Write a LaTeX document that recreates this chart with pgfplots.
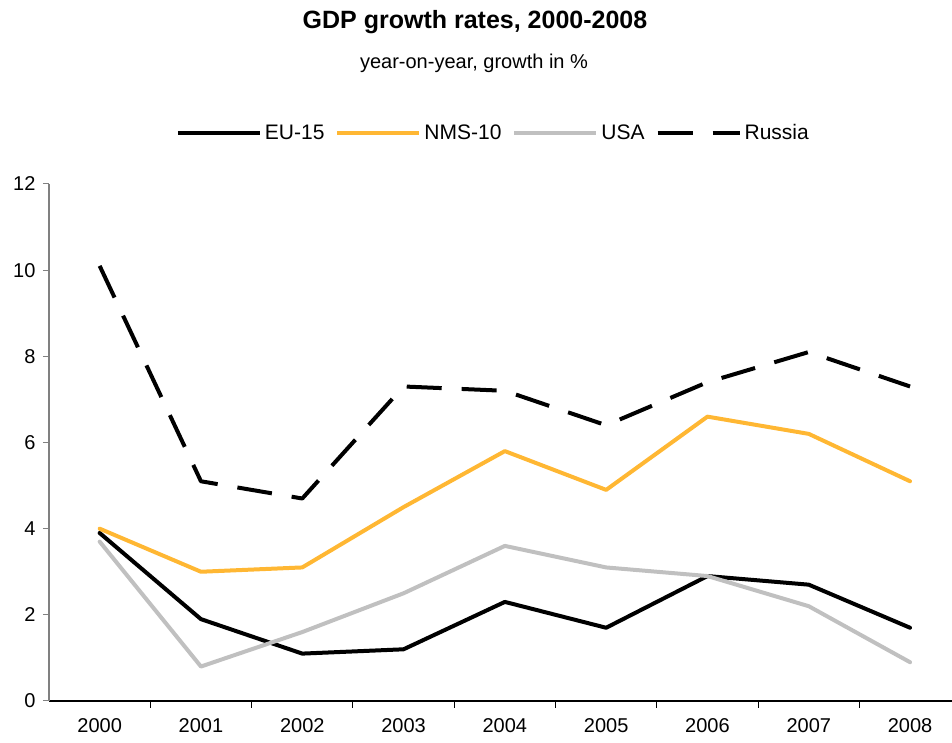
\documentclass[border=0pt]{standalone}
\usepackage{fontspec}
\setmainfont{Liberation Sans}
\usepackage{pgfplots}
\pgfplotsset{compat=1.18}
\definecolor{nms}{RGB}{255,183,51}
\definecolor{usa}{RGB}{192,192,192}
\definecolor{yax}{RGB}{128,128,128}
\begin{document}
\begin{tikzpicture}
\useasboundingbox (0,0) rectangle (952bp,743bp);
\node[font=\fontsize{25bp}{30bp}\selectfont\bfseries] at (475bp,721bp) {GDP growth rates, 2000-2008};
\node[font=\fontsize{20bp}{24bp}\selectfont] at (474bp,680bp) {year-on-year, growth in \%};
\begin{axis}[
  at={(49bp,42bp)}, anchor=south west,
  scale only axis, width=903bp, height=517bp,
  xmin=-0.5, xmax=8.414, ymin=0, ymax=12,
  axis x line=bottom, axis y line=left,
  x axis line style={black, line width=1.2bp, -},
  y axis line style={yax, line width=1.5bp, -},
  ytick={0,2,...,12},
  xtick={0,...,8},
  xticklabels={2000,2001,2002,2003,2004,2005,2006,2007,2008},
  minor xtick={0.5,1.5,...,7.5},
  tick align=outside,
  major tick length=6bp, minor tick length=7bp,
  major x tick style={draw=none},
  minor x tick style={black, line width=1bp},
  y tick style={yax, line width=1bp},
  /pgf/number format/assume math mode=true,
  tick label style={font=\fontsize{20bp}{24bp}\selectfont},
  xticklabel style={yshift=-8bp},
  yticklabel style={xshift=-4bp},
  legend columns=4,
  legend style={at={(0.491,1)}, anchor=center, yshift=51bp, draw=none, fill=none,
    font=\fontsize{21bp}{25bp}\selectfont,
    nodes={inner sep=0pt},
    /tikz/every odd column/.append style={column sep=3bp},
    /tikz/every even column/.append style={column sep=11bp}},
  legend image code/.code={\draw[#1, line cap=butt] (0bp,0bp) -- (82bp,0bp);},
  clip=false,
]
\addplot[black, line width=4bp, line cap=round, line join=round] coordinates {
 (0,3.9) (1,1.9) (2,1.1) (3,1.2) (4,2.3) (5,1.7) (6,2.9) (7,2.7) (8,1.7)};
\addlegendentry{EU-15}
\addplot[nms, line width=4bp, line cap=round, line join=round] coordinates {
 (0,4.0) (1,3.0) (2,3.1) (3,4.5) (4,5.8) (5,4.9) (6,6.6) (7,6.2) (8,5.1)};
\addlegendentry{NMS-10}
\addplot[usa, line width=4bp, line cap=round, line join=round] coordinates {
 (0,3.7) (1,0.8) (2,1.6) (3,2.5) (4,3.6) (5,3.1) (6,2.9) (7,2.2) (8,0.9)};
\addlegendentry{USA}
\addplot[black, line width=4bp, dash pattern=on 35bp off 20bp, line join=round] coordinates {
 (0,10.1) (1,5.1) (2,4.7) (3,7.3) (4,7.2) (5,6.4) (6,7.4) (7,8.1) (8,7.3)};
\addlegendentry{Russia}
\end{axis}
\end{tikzpicture}
\end{document}
